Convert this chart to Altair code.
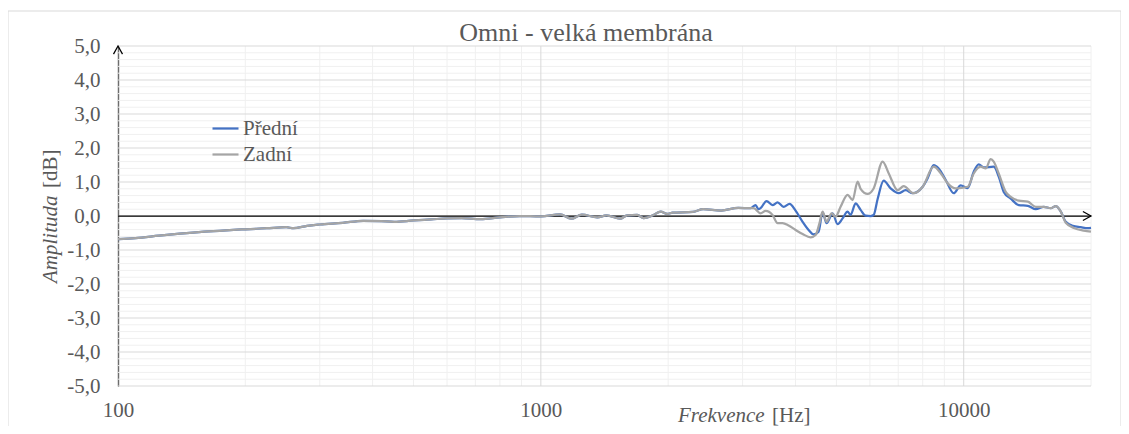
import altair as alt
import pandas as pd
import numpy as np

# ---------------- data ----------------
# low / mid frequency part where both curves coincide
freq_common = [100, 110, 125, 140, 160, 180, 200, 225, 250, 260,
               280, 300, 340, 380, 420, 450, 500, 550, 600, 650,
               720, 800, 890, 1000, 1110, 1180, 1250, 1360, 1430, 1540,
               1600, 1690, 1750, 1840, 1920, 1990, 2050, 2290, 2420, 2670,
               2930, 3133]
amp_common = [-0.68, -0.65, -0.58, -0.52, -0.46, -0.42, -0.39, -0.36, -0.33, -0.36,
              -0.29, -0.25, -0.20, -0.14, -0.15, -0.17, -0.13, -0.10, -0.07, -0.06,
              -0.09, -0.04, 0.00, -0.01, 0.05, -0.08, 0.04, -0.04, 0.02, -0.08,
              0.02, 0.03, -0.06, 0.02, 0.13, 0.06, 0.10, 0.12, 0.20, 0.16,
              0.24, 0.23]

# "Přední" (front) high-frequency part
freq_front_hi = [3220, 3272, 3308, 3418, 3531, 3629, 3750, 3874, 4003, 4159,
                 4297, 4416, 4537, 4637, 4739, 4897, 5032, 5171, 5313, 5400,
                 5550, 5704, 5861, 6025, 6124, 6258, 6467, 6718, 7018, 7290,
                 7573, 7998, 8218, 8492, 8726, 9066, 9470, 9838, 10221, 10561,
                 10852, 11150, 11776, 12100, 12434, 12920, 13496, 14177, 14807, 15465,
                 16066, 16512, 16967, 17434, 18113, 18920, 19656, 20000]
amp_front_hi = [0.32, 0.20, 0.23, 0.44, 0.32, 0.40, 0.27, 0.36, 0.16, -0.17,
                -0.41, -0.54, -0.46, 0.11, -0.21, 0.08, -0.24, -0.07, 0.13, 0.03,
                0.37, 0.18, 0.01, 0.00, 0.03, 0.50, 1.04, 0.81, 0.67, 0.76,
                0.67, 0.86, 1.11, 1.50, 1.40, 1.06, 0.67, 0.90, 0.82, 1.30,
                1.52, 1.43, 1.45, 1.16, 0.71, 0.51, 0.32, 0.30, 0.20, 0.27,
                0.23, 0.29, 0.13, -0.17, -0.29, -0.33, -0.36, -0.35]

# "Zadní" (rear) high-frequency part
freq_back_hi = [3184, 3308, 3400, 3531, 3629, 3729, 3853, 4003, 4159, 4345,
                4464, 4562, 4637, 4739, 4870, 4977, 5115, 5313, 5460, 5611,
                5704, 5926, 6124, 6432, 6645, 6980, 7211, 7615, 7998, 8492,
                8822, 9165, 9574, 10221, 10561, 10970, 11272, 11584, 11776, 12100,
                12571, 12920, 13496, 14177, 14807, 15465, 16066, 16512, 16967, 17434,
                18213, 19231, 20000]
amp_back_hi = [0.23, 0.08, 0.15, 0.03, -0.21, -0.21, -0.28, -0.41, -0.53, -0.63,
               -0.56, -0.20, 0.13, -0.17, 0.08, -0.02, 0.27, 0.62, 0.47, 1.01,
               0.80, 0.65, 0.81, 1.60, 1.26, 0.76, 0.88, 0.67, 0.86, 1.45,
               1.26, 0.96, 0.81, 0.86, 1.25, 1.45, 1.40, 1.67, 1.60, 1.25,
               0.71, 0.56, 0.45, 0.42, 0.27, 0.27, 0.23, 0.29, 0.13, -0.20,
               -0.35, -0.43, -0.46]

series_names = ["Přední", "Zadní"]
series_colors = ["#4472C4", "#A5A5A5"]

title_text = "Omni - velká membrána"
x_ticks = [100, 1000, 10000]
y_ticks = [-5, -4, -3, -2, -1, 0, 1, 2, 3, 4, 5]

# ---------------- tables ----------------
front = pd.DataFrame({"f": freq_common + freq_front_hi,
                      "v": amp_common + amp_front_hi,
                      "s": series_names[0]})
back = pd.DataFrame({"f": freq_common + freq_back_hi,
                     "v": amp_common + amp_back_hi,
                     "s": series_names[1]})

x_minor = [m * d for d in (100, 1000) for m in range(2, 10)] + [20000]
y_minor = [round(v, 1) for v in np.arange(-4.8, 5.0, 0.2) if abs(v - round(v)) > 0.05]

W, H = 973, 340
FONT = "Liberation Serif"
FS = 21
TXT = "#595959"

xs = alt.Scale(type="log", domain=[100, 20000], nice=False)
ys = alt.Scale(domain=[-5, 5], nice=False, zero=False)

lbl_expr = "(datum.value < 0 ? '-' : '') + replace(format(abs(datum.value), '.1f'), '.', ',')"
X_ENC = alt.X("f:Q", scale=xs, title=None,
              axis=alt.Axis(values=x_ticks, grid=False, ticks=False, domain=False,
                            labelFont=FONT, labelFontSize=FS, labelColor=TXT,
                            labelPadding=13, labelFlush=False, format="d"))
Y_ENC = alt.Y("v:Q", scale=ys, title=None,
              axis=alt.Axis(values=y_ticks, grid=False, ticks=False, domain=True,
                            domainColor="black", domainWidth=1.25,
                            labelFont=FONT, labelFontSize=FS, labelColor=TXT,
                            labelPadding=18, labelFlush=False, labelExpr=lbl_expr))

# outer chart border
border = alt.Chart(pd.DataFrame({"a": [0]})).mark_rect(
    fill=None, stroke="#D9D9D9", strokeWidth=1).encode(
    x=alt.value(-110), x2=alt.value(1003), y=alt.value(-35), y2=alt.value(420))

# axes carrier
axes = alt.Chart(pd.DataFrame({"f": [100], "v": [0]})).mark_point(opacity=0).encode(
    x=X_ENC, y=Y_ENC)

# ---------------- grid ----------------
xminor = alt.Chart(pd.DataFrame({"f": x_minor})).mark_rule(color="#F0F0F0", strokeWidth=1).encode(
    x=X_ENC, y=alt.value(0), y2=alt.value(H))
yminor = alt.Chart(pd.DataFrame({"v": y_minor})).mark_rule(color="#F0F0F0", strokeWidth=1).encode(
    y=Y_ENC, x=alt.value(0), x2=alt.value(W))
xmajor = alt.Chart(pd.DataFrame({"f": x_ticks})).mark_rule(color="#D9D9D9", strokeWidth=1).encode(
    x=X_ENC, y=alt.value(0), y2=alt.value(H))
ymajor = alt.Chart(pd.DataFrame({"v": y_ticks})).mark_rule(color="#D9D9D9", strokeWidth=1).encode(
    y=Y_ENC, x=alt.value(0), x2=alt.value(W))

zero_line = alt.Chart(pd.DataFrame({"v": [0]})).mark_rule(color="black", strokeWidth=1.25).encode(
    y=Y_ENC, x=alt.value(0), x2=alt.value(W))

arrow_right = alt.Chart(pd.DataFrame({"f": [20000], "v": [0]})).mark_point(
    shape="M-1.8,-1L0,0L-1.8,1", filled=False, color="black", strokeWidth=1.25, size=81, opacity=1).encode(
    x=X_ENC, y=Y_ENC)
arrow_up = alt.Chart(pd.DataFrame({"f": [100], "v": [5]})).mark_point(
    shape="M-1,1.8L0,0L1,1.8", filled=False, color="black", strokeWidth=1.25, size=81, opacity=1).encode(
    x=X_ENC, y=Y_ENC)

# ---------------- data lines ----------------
color = alt.Color("s:N", scale=alt.Scale(domain=series_names, range=series_colors),
                  legend=alt.Legend(title=None, orient="none", legendX=93, legendY=68,
                                    symbolType="stroke", symbolSize=676, symbolStrokeWidth=2.25,
                                    labelFont=FONT, labelFontSize=FS, labelColor=TXT,
                                    labelOffset=3, rowPadding=1))
line_front = alt.Chart(front).mark_line(strokeWidth=2.25, interpolate="monotone").encode(
    x=X_ENC, y=Y_ENC, color=color)
line_back = alt.Chart(back).mark_line(strokeWidth=2.25, interpolate="monotone").encode(
    x=X_ENC, y=Y_ENC, color=color)

# ---------------- texts ----------------
def txt(t, x, y, **kw):
    return alt.Chart(pd.DataFrame({"t": [t]})).mark_text(
        font=FONT, fontSize=kw.pop("size", FS), color=TXT, **kw).encode(
        text="t:N", x=alt.value(x), y=alt.value(y))

title = txt(title_text, 468, -13, size=26, align="center", baseline="middle")
xt1 = txt("Frekvence", 560, 376, align="left", baseline="alphabetic", fontStyle="italic")
xt2 = txt("[Hz]", 654, 376, align="left", baseline="alphabetic")
yt1 = txt("Amplituda", -67, 237, align="left", baseline="middle", angle=270, fontStyle="italic")
yt2 = txt("[dB]", -67, 142, align="left", baseline="middle", angle=270)

chart = alt.layer(
    border, axes, xminor, yminor, xmajor, ymajor, zero_line,
    line_front, line_back, arrow_right, arrow_up,
    title, xt1, xt2, yt1, yt2,
).properties(
    width=W, height=H,
    autosize=alt.AutoSizeParams(type="none"),
    padding={"left": 110, "top": 38, "right": 30, "bottom": 40},
    background="white",
).configure_view(stroke=None)

chart.save("out.html", embed_options={"renderer": "svg", "actions": False})
